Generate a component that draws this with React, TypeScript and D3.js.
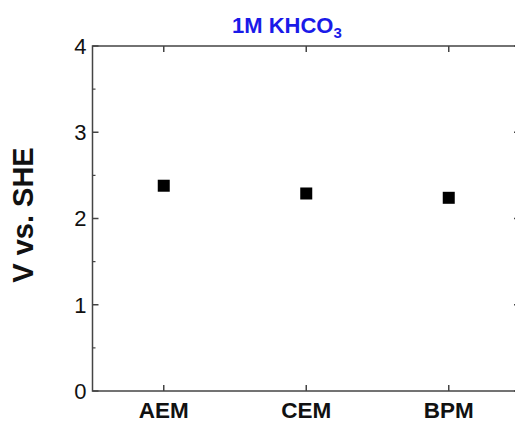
import React from "react";
import * as d3 from "d3";

const categories = ["AEM", "CEM", "BPM"];
const values = [2.38, 2.29, 2.24];
const yMajorTicks = [0, 1, 2, 3, 4];
const yMinorTicks = [0.5, 1.5, 2.5, 3.5];

const W = 515;
const H = 423;
const left = 92.5;
const right = 520;
const top = 46;
const bottom = 391;

export default function App() {
  const x = d3.scaleLinear().domain([0.5, 3.5]).range([left, right]);
  const y = d3.scaleLinear().domain([0, 4]).range([bottom, top]);
  const axisColor = "#444";
  const font = "Liberation Sans, Arial, sans-serif";
  const sq = 12;
  return (
    <div style={{ position: "absolute", left: 0, top: 0 }}>
      <svg width={W} height={H} style={{ display: "block", background: "#fff" }}>
        <rect x={left} y={top} width={right - left} height={bottom - top} fill="none" stroke={axisColor} strokeWidth={1.5} />
        {yMajorTicks.map((t) => (
          <g key={"ym" + t}>
            <line x1={left} x2={left + 6} y1={y(t)} y2={y(t)} stroke={axisColor} strokeWidth={1.5} />
            <line x1={right} x2={right - 6} y1={y(t)} y2={y(t)} stroke={axisColor} strokeWidth={1.5} />
            <text x={left - 6} y={y(t)} dy="0.36em" textAnchor="end" fontFamily={font} fontSize={22} fill="#111">
              {t}
            </text>
          </g>
        ))}
        {yMinorTicks.map((t) => (
          <g key={"yn" + t}>
            <line x1={left} x2={left + 3} y1={y(t)} y2={y(t)} stroke={axisColor} strokeWidth={1.2} />
            <line x1={right} x2={right - 3} y1={y(t)} y2={y(t)} stroke={axisColor} strokeWidth={1.2} />
          </g>
        ))}
        {categories.map((c, i) => (
          <g key={c}>
            <line x1={x(i + 1)} x2={x(i + 1)} y1={bottom} y2={bottom - 6} stroke={axisColor} strokeWidth={1.5} />
            <line x1={x(i + 1)} x2={x(i + 1)} y1={top} y2={top + 6} stroke={axisColor} strokeWidth={1.5} />
            <text x={x(i + 1)} y={418} textAnchor="middle" fontFamily={font} fontSize={22.5} fontWeight="bold" fill="#111">
              {c}
            </text>
          </g>
        ))}
        {values.map((v, i) => (
          <rect key={"p" + i} x={x(i + 1) - sq / 2} y={y(v) - sq / 2} width={sq} height={sq} fill="#000" />
        ))}
        <text
          transform={`translate(33,215) rotate(-90)`}
          textAnchor="middle"
          fontFamily={font}
          fontSize={29}
          fontWeight="bold"
          fill="#111"
        >
          V vs. SHE
        </text>
        <text x={232} y={33} fontFamily={font} fontSize={22} fontWeight="bold" fill="#1a1ae8">
          1M KHCO
          <tspan fontSize={15} dy={5}>3</tspan>
        </text>
      </svg>
    </div>
  );
}
